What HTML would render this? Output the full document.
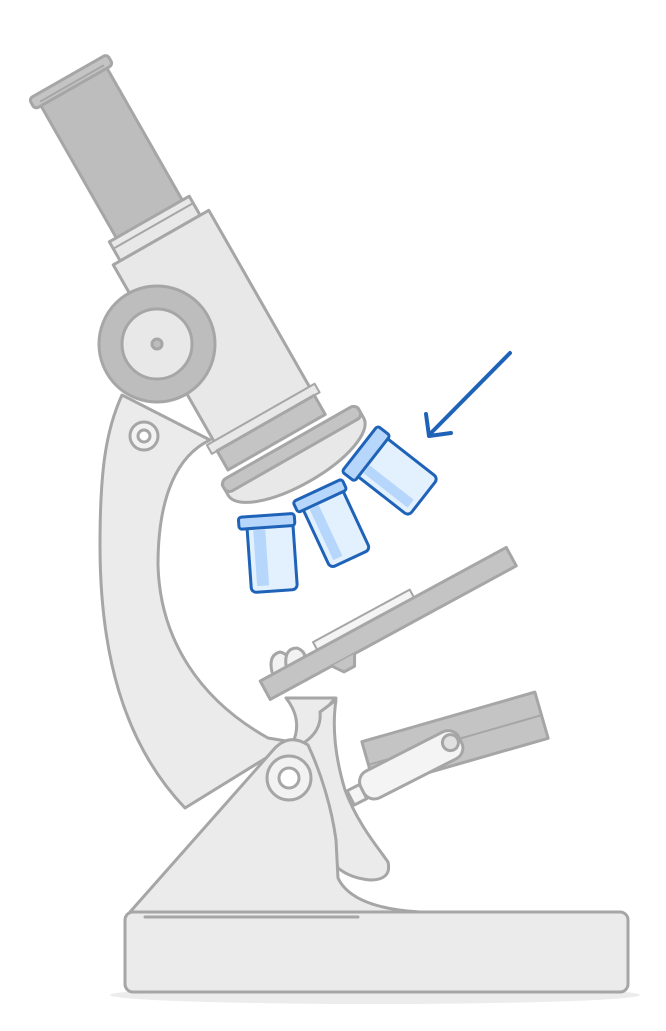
<!DOCTYPE html>
<html><head><meta charset="utf-8"><style>
html,body{margin:0;padding:0;background:#fff;}
svg{display:block;}
</style></head><body>
<svg width="666" height="1031" viewBox="0 0 666 1031" xmlns="http://www.w3.org/2000/svg">
<g stroke="#a6a6a6" stroke-width="3" stroke-linejoin="round" stroke-linecap="round">
<!-- base shadow -->
<ellipse cx="375" cy="995" rx="265" ry="9" fill="#ececec" stroke="none"/>
<!-- arm -->
<path d="M210,440 C178,455 158,495 158,565 C160,640 200,700 268,738 L292,742 L185,808 C122,742 100,650 100,545 C100,470 106,430 122,395 Z" fill="#ebebeb"/>
<!-- small knob on arm -->
<circle cx="144" cy="436" r="14" fill="#f2f2f2"/>
<circle cx="144" cy="436" r="6" fill="#fff"/>
<!-- stage neck -->
<path d="M286,698 Q302,718 294,740 L322,748 Q318,712 336,698 Z" fill="#ebebeb"/>
<!-- pillar limb -->
<path d="M305,742 Q322,730 320,712 L336,700 Q330,740 345,790 C358,825 380,850 388,862 Q392,880 370,880 Q350,878 338,868 Z" fill="#ebebeb"/>
<!-- base triangle -->
<path d="M130,912 L275,748 Q290,733 308,745 C322,775 332,810 336,840 L338,878 Q352,908 420,912 Z" fill="#ebebeb"/>
<circle cx="289" cy="778" r="22" fill="#f2f2f2"/>
<circle cx="289" cy="778" r="10" fill="#fff"/>
<!-- base foot -->
<rect x="125" y="912" width="503" height="80" rx="8" fill="#ebebeb"/>
<line x1="145" y1="917" x2="358" y2="917" stroke-width="3"/>
<!-- mirror -->
<g transform="translate(455,740) rotate(-16)">
<rect x="-90" y="-24" width="180" height="48" fill="#c4c4c4"/>
<line x1="-90" y1="0" x2="90" y2="0" stroke-width="2"/>
</g>
<g transform="translate(405,768) rotate(-27)">
<rect x="-62" y="-6" width="14" height="16" fill="#f4f4f4"/>
<rect x="-48" y="-15" width="110" height="30" rx="12" fill="#f4f4f4"/>
<circle cx="52" cy="-2" r="8" fill="#e0e0e0"/>
</g>
<!-- stage clips -->
<path d="M272,672 Q268,655 280,652 Q292,655 290,668" fill="#f2f2f2"/>
<path d="M286,666 Q284,648 297,648 Q308,652 304,664" fill="#f2f2f2"/>
<!-- stage -->
<g transform="translate(388,623) rotate(-28.5)">
<rect x="-75" y="-19" width="110" height="9" fill="#f4f4f4" stroke-width="2"/>
<rect x="-140" y="-10" width="280" height="21" fill="#c4c4c4"/>
<path d="M-70,11 L-62,22 L-50,22 L-44,11" fill="#c4c4c4"/>
</g>
<!-- objectives -->
<g stroke="#1f63b8" stroke-width="3">
<g transform="translate(273,555) rotate(-4)">
<rect x="-24" y="-32" width="46" height="68" rx="5" fill="#e3f0fe"/>
<rect x="-32" y="-40" width="56" height="12" rx="3" fill="#b7d6fb"/>
<rect x="-18" y="-26" width="12" height="56" fill="#b7d6fb" stroke="none"/>
</g>
<g transform="translate(336,528) rotate(-25)">
<rect x="-22" y="-34" width="44" height="68" rx="5" fill="#e3f0fe"/>
<rect x="-28" y="-42" width="54" height="12" rx="3" fill="#b7d6fb"/>
<rect x="-16" y="-28" width="10" height="56" fill="#b7d6fb" stroke="none"/>
</g>
<g transform="translate(395,475) rotate(-52)">
<rect x="-24" y="-34" width="48" height="70" rx="5" fill="#e3f0fe"/>
<rect x="-30" y="-44" width="58" height="16" rx="3" fill="#b7d6fb"/>
<rect x="-18" y="-26" width="10" height="56" fill="#b7d6fb" stroke="none"/>
</g>
</g>
<!-- tube -->
<g transform="translate(70,80) rotate(-29.7)">
<rect x="-38" y="4" width="76" height="160" fill="#bdbdbd"/>
<rect x="-45" y="-4" width="90" height="12" rx="4" fill="#c4c4c4"/>
<line x1="-36" y1="4" x2="36" y2="4" stroke-width="2"/>
<rect x="-46" y="160" width="92" height="22" fill="#e8e8e8"/>
<line x1="-46" y1="168" x2="46" y2="168" stroke-width="2"/>
<rect x="-54" y="182" width="110" height="205" fill="#e8e8e8"/>
<rect x="-62" y="385" width="124" height="10" fill="#e8e8e8" stroke-width="2"/>
<rect x="-56" y="395" width="112" height="22" fill="#c4c4c4"/>
</g>
<!-- knob -->
<circle cx="157" cy="344" r="58" fill="#bdbdbd"/>
<circle cx="157" cy="344" r="35" fill="#e8e8e8"/>
<circle cx="157" cy="344" r="5" fill="#bdbdbd"/>
<!-- nosepiece -->
<g transform="translate(295,455) rotate(-29.7)">
<path d="M-78,-10 L78,-10 L78,2 A78,28 0 0 1 -78,2 Z" fill="#e8e8e8"/>
<rect x="-78" y="-14" width="156" height="14" rx="6" fill="#c4c4c4"/>
</g>
<!-- arrow -->
<g stroke="#1f63b8" stroke-width="4" fill="none">
<line x1="510" y1="353" x2="430" y2="434"/>
<polyline points="426,414 429,436 451,433"/>
</g>
</g>
</svg>
</body></html>
